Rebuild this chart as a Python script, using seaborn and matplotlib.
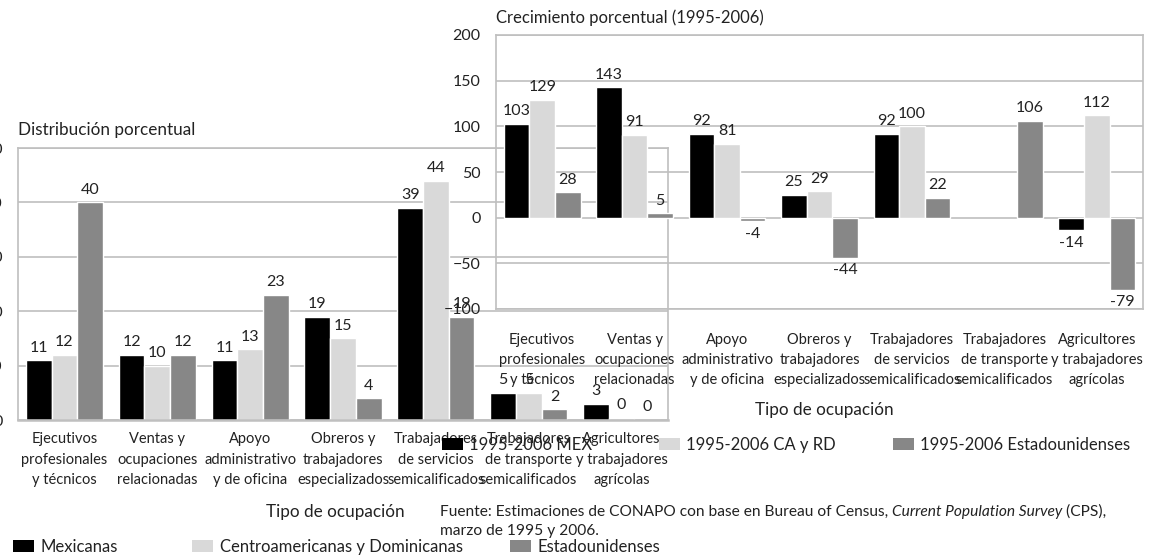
import numpy as np
import pandas as pd
import seaborn as sns
import matplotlib.pyplot as plt
from matplotlib.patches import Patch

# categorias (eje x de ambas graficas)
ocupaciones = [
    "Ejecutivos\nprofesionales\ny técnicos",
    "Ventas y\nocupaciones\nrelacionadas",
    "Apoyo\nadministrativo\ny de oficina",
    "Obreros y\ntrabajadores\nespecializados",
    "Trabajadores\nde servicios\nsemicalificados",
    "Trabajadores\nde transporte\nsemicalificados",
    "Agricultores\ny trabajadores\nagrícolas",
]

# Distribucion porcentual
grupos_dist = ["Mexicanas", "Centroamericanas y Dominicanas", "Estadounidenses"]
dist_mex = [11, 12, 11, 19, 39, 5, 3]
dist_ca = [12, 10, 13, 15, 44, 5, 0.4]
dist_eu = [40, 12, 23, 4, 19, 2, 0]

# Crecimiento porcentual (1995-2006)
grupos_crec = ["1995-2006 MEX", "1995-2006 CA y RD", "1995-2006 Estadounidenses"]
crec_mex = [103, 143, 92, 25, 92, np.nan, -14]
crec_ca = [129, 91, 81, 29, 100, np.nan, 112]
crec_eu = [28, 5, -4, -44, 22, 106, -79]

colores = ["#000000", "#d9d9d9", "#878787"]
gris = "#bfbfbf"
tinta = "#222222"

sns.set_style("white")
plt.rcParams["font.family"] = ["Lato", "DejaVu Sans"]

W, H = 1156, 560
fig = plt.figure(figsize=(W / 100, H / 100), dpi=100)


def px_axes(x0, y0, x1, y1):
    return fig.add_axes([x0 / W, 1 - y1 / H, (x1 - x0) / W, (y1 - y0) / H])


def to_long(series, grupos):
    rows = []
    for g, vals in zip(grupos, series):
        for o, v in zip(ocupaciones, vals):
            rows.append({"ocupacion": o, "grupo": g, "valor": v})
    return pd.DataFrame(rows)


def dibujar(ax, df, grupos, ylim, step, tick_pad, label_pad):
    sns.barplot(data=df, x="ocupacion", y="valor", hue="grupo", hue_order=grupos,
                order=ocupaciones, palette=colores, saturation=1, width=0.83,
                errorbar=None, legend=False, ax=ax)
    ax.set_facecolor("none")
    ax.set_ylim(*ylim)
    ax.set_yticks(np.arange(ylim[0], ylim[1] + 1, step))
    ax.grid(axis="y", color=gris, lw=1.2)
    ax.set_axisbelow(True)
    for s in ax.spines.values():
        s.set_visible(True)
        s.set_color(gris)
        s.set_linewidth(1.2)
    ax.set_xlabel("")
    ax.set_ylabel("")
    ax.tick_params(axis="y", length=0, pad=tick_pad, labelsize=11.5, labelcolor=tinta)
    ax.tick_params(axis="x", length=0, pad=label_pad)
    for t in ax.get_xticklabels():
        t.set_fontsize(10.5)
        t.set_linespacing(1.55)
        t.set_verticalalignment("top")
        t.set_color(tinta)
    for cont in ax.containers:
        labs = ["" if not np.isfinite(v) else f"{v:.0f}" for v in cont.datavalues]
        ax.bar_label(cont, labels=labs, padding=4, fontsize=11.5, color=tinta)


# grafica izquierda
ax1 = px_axes(18, 148, 668, 420)
dibujar(ax1, to_long([dist_mex, dist_ca, dist_eu], grupos_dist), grupos_dist, (0, 50), 10, 11, 9)
ax1.spines["bottom"].set_linewidth(1.8)

# grafica derecha (sobrepuesta)
ax2 = px_axes(496, 35, 1143, 309)
dibujar(ax2, to_long([crec_mex, crec_ca, crec_eu], grupos_crec), grupos_crec, (-100, 200), 50, 11, 17)
ax2.set_zorder(3)

fig.text(18 / W, 1 - 130 / H, "Distribución porcentual", fontsize=12.3, va="center", color=tinta)
fig.text(496 / W, 1 - 18 / H, "Crecimiento porcentual (1995-2006)", fontsize=12, va="center", color=tinta)
fig.text(335 / W, 1 - 512 / H, "Tipo de ocupación", fontsize=12.3, ha="center", va="center", color=tinta)
fig.text(824 / W, 1 - 410 / H, "Tipo de ocupación", fontsize=12.3, ha="center", va="center", color=tinta)

# fuente, con el nombre de la encuesta en cursiva
renderer = fig.canvas.get_renderer()
x = 440
for txt, estilo in [("Fuente: Estimaciones de CONAPO con base en Bureau of Census, ", "normal"),
                    ("Current Population Survey", "italic"), (" (CPS),", "normal")]:
    t = fig.text(x / W, 1 - 512 / H, txt, style=estilo, fontsize=11.2, va="center", color=tinta)
    x = t.get_window_extent(renderer).x1
fig.text(440 / W, 1 - 531 / H, "marzo de 1995 y 2006.", fontsize=11.2, va="center", color=tinta)

# leyendas
pos_dist = [13, 192, 510]
pos_crec = [442, 659, 893]
for grupos, xs, y in [(grupos_dist, pos_dist, 547), (grupos_crec, pos_crec, 445)]:
    for g, c, x in zip(grupos, colores, xs):
        leg = fig.legend(handles=[Patch(facecolor=c, edgecolor="none", label=g)],
                         loc="center left", bbox_to_anchor=(x / W, 1 - y / H),
                         frameon=False, fontsize=12, handlelength=1.25, handleheight=0.7,
                         handletextpad=0.4, borderpad=0, borderaxespad=0)
        for t in leg.get_texts():
            t.set_color(tinta)

fig.savefig("out.png", dpi=100)
